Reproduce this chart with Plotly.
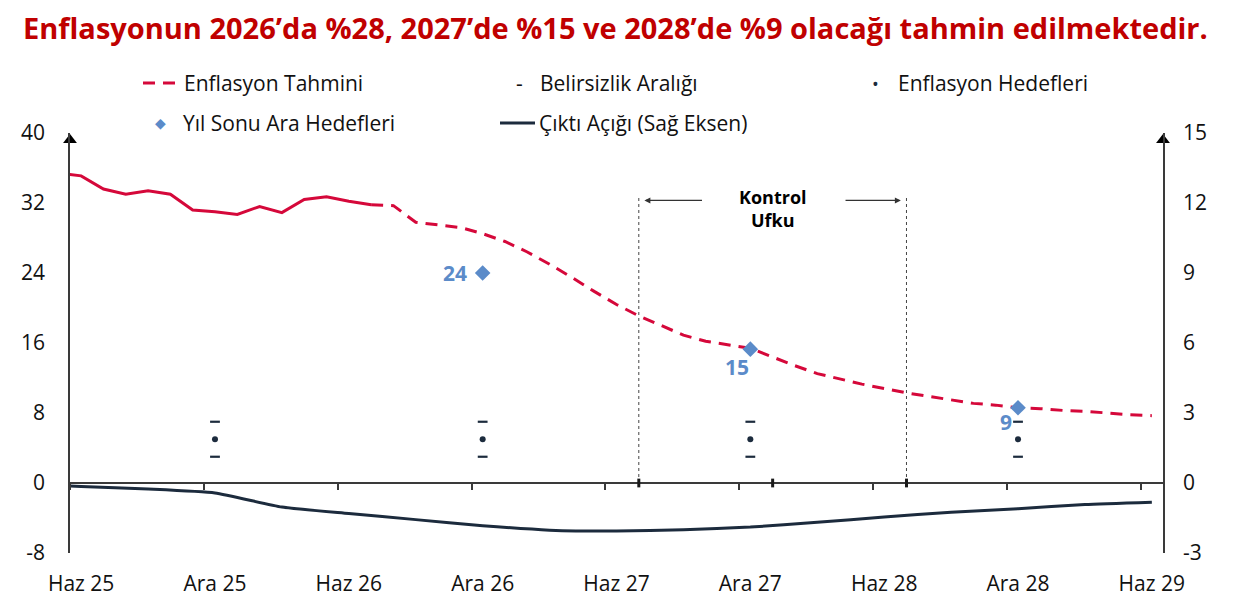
import plotly.graph_objects as go

# ---------------- data ----------------
month_names = ["Oca", "Şub", "Mar", "Nis", "May", "Haz", "Tem", "Ağu", "Eyl", "Eki", "Kas", "Ara"]
all_months = [f"{m} {y}" for y in range(25, 30) for m in month_names]
categories = all_months[all_months.index("May 25"):all_months.index("Haz 29") + 1]

tick_labels = ["Haz 25", "Ara 25", "Haz 26", "Ara 26", "Haz 27", "Ara 27", "Haz 28", "Ara 28", "Haz 29"]
left_ticks = [-8, 0, 8, 16, 24, 32, 40]
left_tick_text = ["-8", "0", "8", "16", "24", "32", "40"]
right_ticks = [-3, 0, 3, 6, 9, 12, 15]
right_tick_text = ["-3", "0", "3", "6", "9", "12", "15"]

actual_x = ["May 25", "Haz 25", "Tem 25", "Ağu 25", "Eyl 25", "Eki 25", "Kas 25", "Ara 25",
            "Oca 26", "Şub 26", "Mar 26", "Nis 26", "May 26", "Haz 26", "Tem 26"]
actual_y = [35.4, 35.1, 33.6, 33.0, 33.4, 33.0, 31.2, 31.0,
            30.7, 31.6, 30.9, 32.4, 32.7, 32.2, 31.8]

forecast_x = categories[categories.index("Tem 26"):]
forecast_y = [31.8, 31.7, 29.8, 29.5, 29.2, 28.5,
              27.6, 26.4, 25.0, 23.5, 21.9, 20.4, 19.1, 18.0, 16.9, 16.2, 15.8, 15.4,
              14.4, 13.4, 12.5, 11.9, 11.3, 10.8, 10.3, 9.9, 9.5, 9.1, 8.9, 8.6,
              8.5, 8.3, 8.2, 8.0, 7.8, 7.7]

gap_x = ["May 25", "Haz 25", "Eyl 25", "Ara 25", "Mar 26", "Haz 26", "Eyl 26", "Ara 26",
         "Mar 27", "Haz 27", "Eyl 27", "Ara 27", "Mar 28", "Haz 28", "Eyl 28", "Ara 28",
         "Mar 29", "Haz 29"]
gap_y = [-0.10, -0.15, -0.26, -0.43, -1.03, -1.31, -1.57, -1.83,
         -2.02, -2.06, -2.00, -1.89, -1.68, -1.46, -1.25, -1.10,
         -0.92, -0.82]

target_x = ["Ara 25", "Ara 26", "Ara 27", "Ara 28"]
target_y = [5, 5, 5, 5]
band_upper = [7, 7, 7, 7]
band_lower = [3, 3, 3, 3]

yearend_x = ["Ara 26", "Ara 27", "Ara 28"]
yearend_y = [24.0, 15.3, 8.6]
yearend_labels = ["24", "15", "9"]

control_start, control_mid, control_end = "Tem 27", "Oca 28", "Tem 28"

# ---------------- style ----------------
RED = "#D5083A"
NAVY = "#1C2B3D"
BLUE = "#5B8BC9"
AXIS = "#3A3A3A"
TXT = "#111111"
FONT = "Open Sans"

OFF = 8  # page body margin
W, H = 1238 - 2 * OFF, 605 - 2 * OFF
TOP, BOT, LEFT, RIGHT = 133, 553, 70, 1163   # plot area on screen
ML, MT = LEFT - OFF, TOP - OFF
MR = W - (RIGHT - OFF)
MB = H - (BOT - OFF)
PW, PH = W - ML - MR, H - MT - MB


def px(xp):
    return (xp - OFF - ML) / PW


def py(yp):
    return (H - MB - (yp - OFF)) / PH


def ci(name):
    return categories.index(name)


fig = go.Figure()

fig.add_trace(go.Scatter(x=actual_x, y=actual_y, mode="lines",
                         line=dict(color=RED, width=3), hoverinfo="skip"))
fig.add_trace(go.Scatter(x=forecast_x, y=forecast_y, mode="lines",
                         line=dict(color=RED, width=3, dash="12px,8px"), hoverinfo="skip"))
fig.add_trace(go.Scatter(x=gap_x, y=gap_y, mode="lines", yaxis="y2",
                         line=dict(color=NAVY, width=3, shape="spline", smoothing=0.5),
                         hoverinfo="skip"))
fig.add_trace(go.Scatter(x=target_x, y=band_upper, mode="markers",
                         marker=dict(symbol="line-ew", size=7, line=dict(color=NAVY, width=2.2)),
                         hoverinfo="skip"))
fig.add_trace(go.Scatter(x=target_x, y=band_lower, mode="markers",
                         marker=dict(symbol="line-ew", size=7, line=dict(color=NAVY, width=2.2)),
                         hoverinfo="skip"))
fig.add_trace(go.Scatter(x=target_x, y=target_y, mode="markers",
                         marker=dict(symbol="circle", size=6, color=NAVY), hoverinfo="skip"))
fig.add_trace(go.Scatter(x=yearend_x, y=yearend_y, mode="markers",
                         marker=dict(symbol="diamond", size=12, color=BLUE), hoverinfo="skip"))
# axis arrow heads
fig.add_trace(go.Scatter(x=[0.5, len(categories) - 0.5], y=[39.2, 39.2], mode="markers",
                         xaxis="x2", cliponaxis=False,
                         marker=dict(symbol="triangle-up", size=12, color="#000000"),
                         hoverinfo="skip"))

fig.update_layout(
    width=W, height=H, autosize=False,
    margin=dict(l=ML, r=MR, t=MT, b=MB, autoexpand=False),
    paper_bgcolor="white", plot_bgcolor="white",
    showlegend=False,
    font=dict(family=FONT, size=21, color=TXT),
    xaxis=dict(type="category", categoryorder="array", categoryarray=categories,
               range=[0.5, len(categories) - 0.5], automargin=False,
               tickmode="array", tickvals=tick_labels, ticktext=tick_labels,
               ticks="", showline=False, showgrid=False, zeroline=False,
               tickfont=dict(size=21, color=TXT), ticklabelstandoff=16),
    xaxis2=dict(overlaying="x", anchor="free", position=8 / 48, side="bottom",
                range=[0.5, len(categories) - 0.5], automargin=False,
                tickmode="array", tickvals=[0.5 + 6 * k for k in range(9)],
                ticks="outside", ticklen=6, tickwidth=1.5, tickcolor=AXIS,
                showline=True, linecolor=AXIS, linewidth=1.5,
                showticklabels=False, showgrid=False, zeroline=False),
    yaxis=dict(range=[-8, 40], tickmode="array", tickvals=left_ticks, ticktext=left_tick_text,
               automargin=False,
               showline=True, linecolor=AXIS, linewidth=1.5, ticks="",
               showgrid=False, zeroline=False, tickfont=dict(size=21, color=TXT),
               ticklabelstandoff=19),
    yaxis2=dict(range=[-3, 15], overlaying="y", side="right",
                tickmode="array", tickvals=right_ticks, ticktext=right_tick_text,
                automargin=False,
                showline=True, linecolor=AXIS, linewidth=1.5, ticks="",
                showgrid=False, zeroline=False, tickfont=dict(size=21, color=TXT),
                ticklabelstandoff=14),
)

shapes = []
# control horizon dotted lines
for c in (control_start, control_end):
    shapes.append(dict(type="line", xref="x", yref="y", x0=ci(c), x1=ci(c), y0=0, y1=32.8,
                       line=dict(color="#444444", width=1, dash="dot")))
# thick ticks
for c in (control_start, control_mid, control_end):
    shapes.append(dict(type="line", xref="x", yref="y", x0=ci(c), x1=ci(c), y0=0.5, y1=-0.5,
                       line=dict(color="#1A1A1A", width=3)))
# legend line symbols
shapes.append(dict(type="line", xref="paper", yref="paper", x0=px(143), x1=px(175),
                   y0=py(83), y1=py(83), line=dict(color=RED, width=3, dash="12px,8px")))
shapes.append(dict(type="line", xref="paper", yref="paper", x0=px(500), x1=px(535),
                   y0=py(123), y1=py(123), line=dict(color=NAVY, width=3)))
fig.update_layout(shapes=shapes)

ann = []
# title
ann.append(dict(xref="paper", yref="paper", x=px(21), y=py(27), xanchor="left", yanchor="middle",
                text="<b>Enflasyonun 2026’da %28, 2027’de %15 ve 2028’de %9 olacağı tahmin edilmektedir.</b>",
                showarrow=False, font=dict(family=FONT, size=29, color="#C00000")))
# legend texts
leg = [
    (182, 83, "Enflasyon Tahmini"),
    (538, 83, "Belirsizlik Aralığı"),
    (896, 83, "Enflasyon Hedefleri"),
    (181, 123, "Yıl Sonu Ara Hedefleri"),
    (537, 123, "Çıktı Açığı (Sağ Eksen)"),
]
for xp, yp, t in leg:
    ann.append(dict(xref="paper", yref="paper", x=px(xp), y=py(yp), xanchor="left",
                    yanchor="middle", text=t, showarrow=False,
                    font=dict(family=FONT, size=21, color=TXT)))
ann.append(dict(xref="paper", yref="paper", x=px(519), y=py(83), xanchor="center", yanchor="middle",
                text="-", showarrow=False, font=dict(family=FONT, size=21, color=TXT)))
ann.append(dict(xref="paper", yref="paper", x=px(875), y=py(84), xanchor="center", yanchor="middle",
                text="•", showarrow=False, font=dict(family=FONT, size=18, color=NAVY)))
ann.append(dict(xref="paper", yref="paper", x=px(160), y=py(123), xanchor="center", yanchor="middle",
                text="◆", showarrow=False, font=dict(family="DejaVu Sans", size=14, color=BLUE)))
# control horizon
ann.append(dict(xref="x", yref="y", x=ci(control_mid), y=31.4, text="<b>Kontrol<br>Ufku</b>",
                showarrow=False, font=dict(family=FONT, size=18, color="#000000"),
                xanchor="center", yanchor="middle"))
ann.append(dict(xref="x", yref="y", axref="x", ayref="y",
                x=ci(control_start) + 0.25, y=32.3, ax=ci(control_start) + 2.9, ay=32.3,
                text="", showarrow=True, arrowhead=2, arrowsize=1, arrowwidth=1.2,
                arrowcolor="#333333"))
ann.append(dict(xref="x", yref="y", axref="x", ayref="y",
                x=ci(control_end) - 0.25, y=32.3, ax=ci(control_end) - 2.8, ay=32.3,
                text="", showarrow=True, arrowhead=2, arrowsize=1, arrowwidth=1.2,
                arrowcolor="#333333"))
# year-end labels
shifts = [(-28, 0), (-13, -18), (-12, -14)]
for xv, yv, lab, (dx, dy) in zip(yearend_x, yearend_y, yearend_labels, shifts):
    ann.append(dict(xref="x", yref="y", x=ci(xv), y=yv, text=f"<b>{lab}</b>", showarrow=False,
                    xshift=dx, yshift=dy, xanchor="center", yanchor="middle",
                    font=dict(family=FONT, size=21, color=BLUE)))
fig.update_layout(annotations=ann)

fig.write_html("out.html")
